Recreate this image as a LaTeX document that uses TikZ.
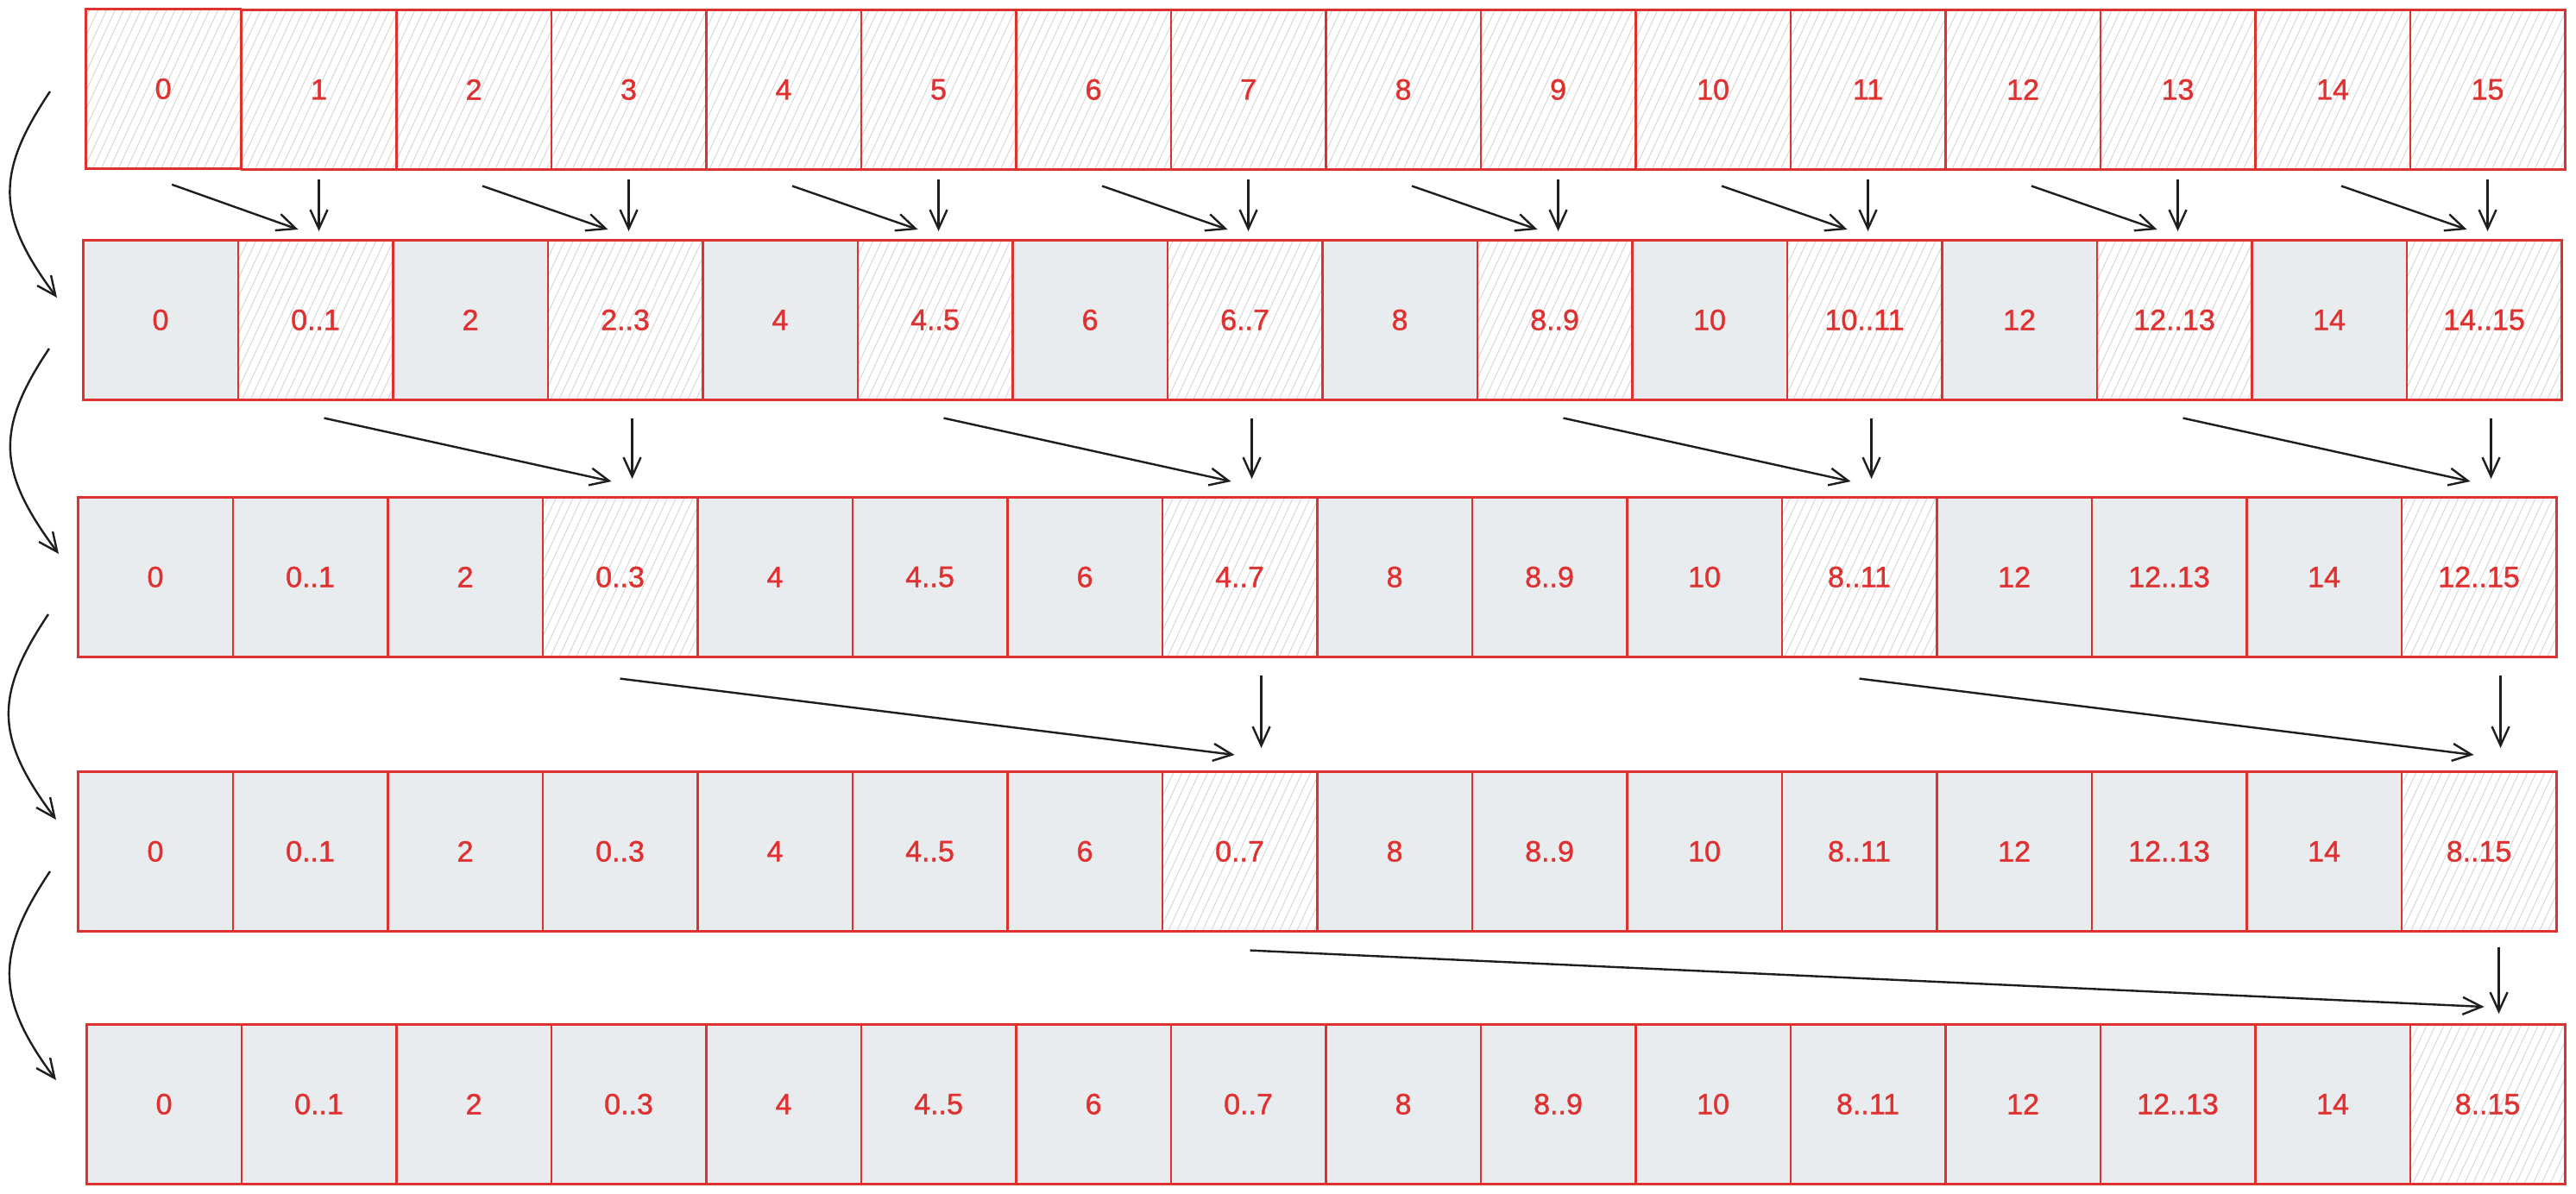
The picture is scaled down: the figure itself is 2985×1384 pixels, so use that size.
\documentclass[tikz,border=0pt]{standalone}
\usepackage{fontspec}
\setmainfont{Liberation Sans}
\newfontfamily\lblfont{Liberation Sans}[FakeBold=1.2]
\usetikzlibrary{patterns.meta,arrows.meta,calc}
\definecolor{cred}{HTML}{E03131}
\definecolor{cgray}{HTML}{E9ECEF}
\definecolor{chatch}{HTML}{D4D4D4}
\definecolor{cink}{HTML}{1E1E1E}
\newcommand\cellrow[5]{%
  \foreach \lab [count=\k from 0] in {#5} {
    \pgfmathtruncatemacro{\hh}{mod(\k,#4)==(#4-1)}
    \ifnum\hh=1
      \node[cellh] (r#1c\k) at ({#2+\k*179.5},#3) {\lab};
    \else
      \node[cellg] (r#1c\k) at ({#2+\k*179.5},#3) {\lab};
    \fi
  }%
}
\begin{document}
\begin{tikzpicture}[x=1pt,y=-1pt,
  cell/.style={draw=cred, line width=2.6pt, minimum width=179.5pt, minimum height=185pt,
    inner sep=0pt, text=cred, font=\lblfont\fontsize{34}{40}\selectfont, anchor=north west},
  cellg/.style={cell, fill=cgray},
  cellh/.style={cell, pattern={Lines[angle=65,distance=9pt,line width=0.9pt]}, pattern color=chatch},
  arr/.style={draw=cink, line width=2.4pt, -{Straight Barb[length=22pt,width=20pt,line width=2.4pt]}},
  carr/.style={draw=cink, line width=2.4pt, -{Straight Barb[length=22pt,width=20pt,line width=2.4pt]}},
]
\useasboundingbox (0,0) rectangle (2985,1384);
\fill[white] (0,0) rectangle (2985,1384);

\cellrow{1}{99}{10}{1}{0,1,2,3,4,5,6,7,8,9,10,11,12,13,14,15}
\cellrow{2}{95}{277}{2}{0,{0..1},2,{2..3},4,{4..5},6,{6..7},8,{8..9},10,{10..11},12,{12..13},14,{14..15}}
\cellrow{3}{89}{575}{4}{0,{0..1},2,{0..3},4,{4..5},6,{4..7},8,{8..9},10,{8..11},12,{12..13},14,{12..15}}
\cellrow{4}{89}{893}{8}{0,{0..1},2,{0..3},4,{4..5},6,{0..7},8,{8..9},10,{8..11},12,{12..13},14,{8..15}}
\cellrow{5}{99}{1186}{16}{0,{0..1},2,{0..3},4,{4..5},6,{0..7},8,{8..9},10,{8..11},12,{12..13},14,{8..15}}

% row 1 -> row 2
\foreach \a/\b in {0/1,2/3,4/5,6/7,8/9,10/11,12/13,14/15} {
  \draw[arr] ($(r1c\a.south)+(10,18)$) -- ($(r2c\b.north)+(-20,-11)$);
  \draw[arr] ($(r1c\b.south)+(0,10)$) -- ($(r1c\b.south |- r2c\b.north)+(0,-9)$);
}
% row 2 -> row 3
\foreach \a/\b in {1/3,5/7,9/11,13/15} {
  \draw[arr] ($(r2c\a.south)+(10,20)$) -- ($(r3c\b.north)+(-10,-17)$);
  \draw[arr] ($(r2c\b.south)+(8,20)$) -- ($(r2c\b.south |- r3c\b.north)+(8,-20)$);
}
% row 3 -> row 4
\foreach \a/\b in {3/7,11/15} {
  \draw[arr] ($(r3c\a.south)+(0,24)$) -- ($(r4c\b.north)+(-6,-18)$);
  \draw[arr] ($(r4c\b.north)+(25,-110)$) -- ($(r4c\b.north)+(25,-26)$);
}
% row 4 -> row 5
\draw[arr] ($(r4c7.south)+(12,21)$) -- ($(r5c15.north)+(-4,-19)$);
\draw[arr] ($(r4c15.south)+(23,17)$) -- ($(r4c15.south |- r5c15.north)+(23,-11)$);

% left curved arrows
\coordinate (s1) at (58,106);  \coordinate (e1) at (66,345);
\coordinate (s2) at (57,404);  \coordinate (e2) at (68,642);
\coordinate (s3) at (56,712);  \coordinate (e3) at (65,950);
\coordinate (s4) at (58,1010); \coordinate (e4) at (65,1252);
\foreach \n in {1,2,3,4} {
  \draw[carr] (s\n) .. controls +(-63,94) and +(-71,-95) .. (e\n);
}
\end{tikzpicture}
\end{document}
